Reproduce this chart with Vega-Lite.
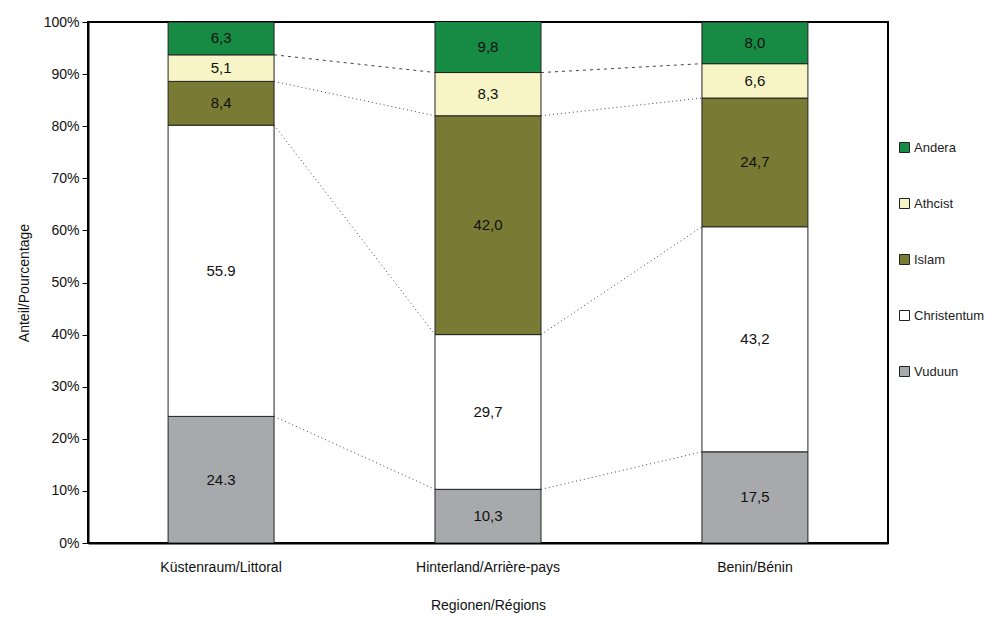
{
  "$schema": "https://vega.github.io/schema/vega-lite/v6.json",
  "width": 800,
  "height": 521,
  "autosize": {"type": "none"},
  "padding": {"left": 88, "top": 22, "right": 108, "bottom": 76},
  "background": "white",
  "config": {
    "view": {"stroke": "black", "strokeWidth": 2},
    "font": "Liberation Sans",
    "axis": {"labelFont": "Liberation Sans", "titleFont": "Liberation Sans", "labelColor": "#111", "titleColor": "#111", "titleFontWeight": "normal", "labelFontSize": 14, "titleFontSize": 14},
    "legend": {"labelFont": "Liberation Sans"}
  },
  "datasets": {
    "bars": [
      {"region": "Küstenraum/Littoral", "religion": "Vuduun", "value": 24.3, "label": "24.3"},
      {"region": "Küstenraum/Littoral", "religion": "Christentum", "value": 55.9, "label": "55.9"},
      {"region": "Küstenraum/Littoral", "religion": "Islam", "value": 8.4, "label": "8,4"},
      {"region": "Küstenraum/Littoral", "religion": "Athcist", "value": 5.1, "label": "5,1"},
      {"region": "Küstenraum/Littoral", "religion": "Andera", "value": 6.3, "label": "6,3"},
      {"region": "Hinterland/Arrière-pays", "religion": "Vuduun", "value": 10.3, "label": "10,3"},
      {"region": "Hinterland/Arrière-pays", "religion": "Christentum", "value": 29.7, "label": "29,7"},
      {"region": "Hinterland/Arrière-pays", "religion": "Islam", "value": 42.0, "label": "42,0"},
      {"region": "Hinterland/Arrière-pays", "religion": "Athcist", "value": 8.3, "label": "8,3"},
      {"region": "Hinterland/Arrière-pays", "religion": "Andera", "value": 9.8, "label": "9,8"},
      {"region": "Benin/Bénin", "religion": "Vuduun", "value": 17.5, "label": "17,5"},
      {"region": "Benin/Bénin", "religion": "Christentum", "value": 43.2, "label": "43,2"},
      {"region": "Benin/Bénin", "religion": "Islam", "value": 24.7, "label": "24,7"},
      {"region": "Benin/Bénin", "religion": "Athcist", "value": 6.6, "label": "6,6"},
      {"region": "Benin/Bénin", "religion": "Andera", "value": 8.0, "label": "8,0"}
    ],
    "links": [
      {"from": "Küstenraum/Littoral", "to": "Hinterland/Arrière-pays", "boundary": "Vuduun", "ya": 24.3, "yb": 10.3},
      {"from": "Küstenraum/Littoral", "to": "Hinterland/Arrière-pays", "boundary": "Christentum", "ya": 80.2, "yb": 40.0},
      {"from": "Küstenraum/Littoral", "to": "Hinterland/Arrière-pays", "boundary": "Islam", "ya": 88.6, "yb": 82.0},
      {"from": "Küstenraum/Littoral", "to": "Hinterland/Arrière-pays", "boundary": "Athcist", "ya": 93.7, "yb": 90.3},
      {"from": "Hinterland/Arrière-pays", "to": "Benin/Bénin", "boundary": "Vuduun", "ya": 10.3, "yb": 17.5},
      {"from": "Hinterland/Arrière-pays", "to": "Benin/Bénin", "boundary": "Christentum", "ya": 40.0, "yb": 60.7},
      {"from": "Hinterland/Arrière-pays", "to": "Benin/Bénin", "boundary": "Islam", "ya": 82.0, "yb": 85.4},
      {"from": "Hinterland/Arrière-pays", "to": "Benin/Bénin", "boundary": "Athcist", "ya": 90.3, "yb": 92.0}
    ]
  },
  "layer": [
    {
      "data": {"name": "links"},
      "mark": {"type": "rule", "color": "#444", "strokeWidth": 1},
      "encoding": {
        "x": {"field": "from", "type": "nominal", "bandPosition": 1,
              "scale": {"domain": ["Küstenraum/Littoral", "Hinterland/Arrière-pays", "Benin/Bénin"], "paddingInner": 0.603, "paddingOuter": 0.3},
              "axis": {"title": "Regionen/Régions", "ticks": false, "labelAngle": 0, "labelPadding": 17, "titlePadding": 24, "domainColor": "black", "domainWidth": 2}},
        "x2": {"field": "to", "bandPosition": 0},
        "y": {"field": "ya", "type": "quantitative", "scale": {"domain": [0, 100]},
              "axis": {"title": "Anteil/Pourcentage", "values": [0,10,20,30,40,50,60,70,80,90,100], "labelExpr": "datum.value + '%'", "grid": false, "domainColor": "black", "domainWidth": 2, "tickColor": "black", "tickSize": 6, "labelPadding": 3, "titlePadding": 12}},
        "y2": {"field": "yb"},
        "strokeDash": {"condition": {"test": "datum.boundary === 'Athcist'", "value": [3, 4]}, "value": [1, 3]}
      }
    },
    {
      "data": {"name": "bars"},
      "transform": [
        {"calculate": "indexof(['Vuduun','Christentum','Islam','Athcist','Andera'], datum.religion)", "as": "idx"},
        {"stack": "value", "groupby": ["region"], "sort": [{"field": "idx", "order": "ascending"}], "as": ["y0", "y1"]},
        {"calculate": "(datum.y0 + datum.y1) / 2", "as": "ymid"}
      ],
      "layer": [
        {
          "mark": {"type": "bar", "stroke": "#222", "strokeWidth": 1, "clip": true},
          "encoding": {
            "x": {"field": "region", "type": "nominal", "title": "Regionen/Régions",
                  "scale": {"domain": ["Küstenraum/Littoral", "Hinterland/Arrière-pays", "Benin/Bénin"]}},
            "y": {"field": "y0", "type": "quantitative", "title": "Anteil/Pourcentage"},
            "y2": {"field": "y1"},
            "color": {"field": "religion", "type": "nominal",
                      "scale": {"domain": ["Andera", "Athcist", "Islam", "Christentum", "Vuduun"],
                                "range": ["#178a44", "#f7f5c6", "#797b34", "#ffffff", "#a7a9ac"]},
                      "legend": {"orient": "none", "legendX": 810, "legendY": 119, "title": null,
                                 "symbolType": "square", "symbolSize": 100, "symbolStrokeColor": "#222", "symbolStrokeWidth": 1,
                                 "symbolOpacity": 1, "rowPadding": 41, "labelFontSize": 13, "labelColor": "#222", "labelOffset": 3}}
          }
        },
        {
          "mark": {"type": "text", "fontSize": 15, "color": "#111", "baseline": "middle"},
          "encoding": {
            "x": {"field": "region", "type": "nominal", "title": "Regionen/Régions"},
            "y": {"field": "ymid", "type": "quantitative", "title": "Anteil/Pourcentage"},
            "text": {"field": "label"}
          }
        }
      ]
    }
  ]
}
